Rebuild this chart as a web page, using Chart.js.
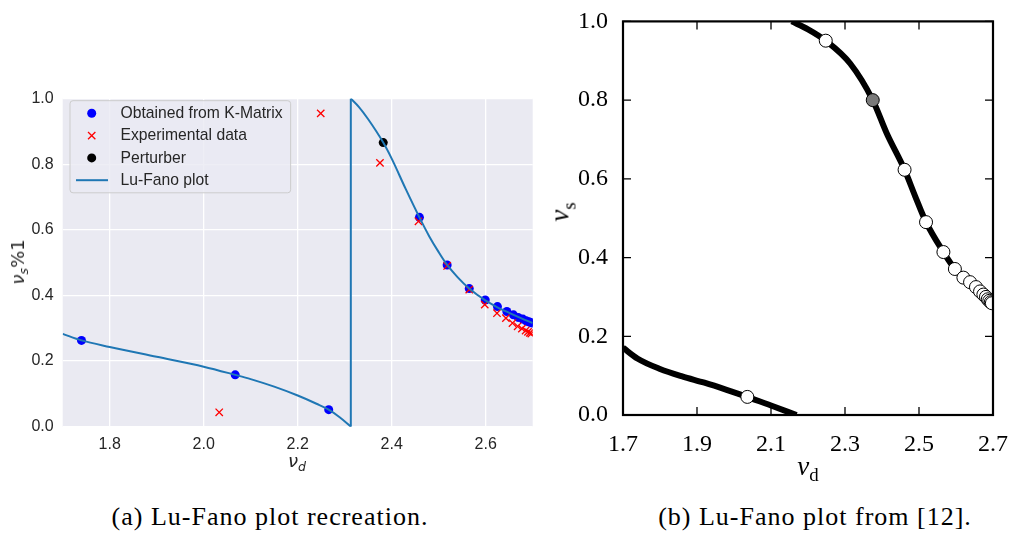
<!DOCTYPE html>
<html>
<head>
<meta charset="utf-8">
<script src="https://cdn.jsdelivr.net/npm/chart.js@4.4.0/dist/chart.umd.min.js"></script>
<style>
  body { margin: 0; background: #fff; }
  #page { position: relative; width: 1021px; height: 533px; overflow: hidden; }
  #chartA { position: absolute; left: 0; top: 80px; }
  #chartB { position: absolute; left: 540px; top: 0; }
  .lab { position: absolute; transform: translate(-50%, -50%); white-space: nowrap; line-height: 1; }
  .rot { transform: translate(-50%, -50%) rotate(-90deg); }
  .sans { font-family: "DejaVu Sans"; font-size: 18px; color: #262626; }
  .serif { font-family: "Liberation Serif"; font-size: 27px; color: #000; }
  .cap { font-family: "Liberation Serif"; font-size: 26px; letter-spacing: 1px; color: #000; }
  sub { font-size: 70%; vertical-align: -0.35em; line-height: 0; }
</style>
</head>
<body>
<div id="page">
  <canvas id="chartA" width="540" height="400"></canvas>
  <canvas id="chartB" width="481" height="480"></canvas>

  <div class="lab sans" style="left:297px; top:461px;"><i>ν</i><sub><i>d</i></sub></div>
  <div class="lab sans rot" style="left:18px; top:262px;"><i>ν</i><sub><i>s</i></sub>%1</div>

  <div class="lab serif" style="left:808px; top:466px;"><i>ν</i><sub>d</sub></div>
  <div class="lab serif rot" style="left:560px; top:212px;"><i>ν</i><sub>s</sub></div>

  <div class="lab cap" style="left:270px; top:517px;">(a) Lu-Fano plot recreation.</div>
  <div class="lab cap" style="left:815px; top:517px;">(b) Lu-Fano plot from [12].</div>
</div>

<script>
// (a) recreation: K-matrix levels, experiment, perturber
const kmatNu = [1.740, 2.067, 2.266, 2.459, 2.518, 2.565, 2.599, 2.625, 2.645, 2.659, 2.669, 2.679, 2.686, 2.691, 2.695, 2.699];
const kmatNs = [0.263, 0.158, 0.052, 0.638, 0.493, 0.421, 0.386, 0.366, 0.351, 0.341, 0.333, 0.328, 0.323, 0.320, 0.318, 0.316];

const expNu = [2.033, 2.249, 2.375, 2.457, 2.518, 2.565, 2.598, 2.624, 2.643, 2.657, 2.668, 2.677, 2.685, 2.690, 2.694, 2.697];
const expNs = [0.044, 0.955, 0.804, 0.626, 0.490, 0.418, 0.372, 0.346, 0.331, 0.316, 0.306, 0.299, 0.293, 0.289, 0.286, 0.284];

const pertNu = [2.382];
const pertNs = [0.866];

// Lu-Fano curve, three pieces (lower branch, jump, upper branch)
const fanoLowNu = [1.700, 1.740, 1.800, 1.900, 2.000, 2.067, 2.100, 2.150, 2.200, 2.240, 2.266, 2.290, 2.313];
const fanoLowNs = [0.283, 0.263, 0.243, 0.213, 0.183, 0.158, 0.145, 0.122, 0.095, 0.070, 0.052, 0.028, 0.000];
const fanoJumpNu = [2.313, 2.313];
const fanoJumpNs = [0.000, 1.000];
const fanoUpNu = [2.313, 2.330, 2.350, 2.382, 2.400, 2.430, 2.459, 2.480, 2.500, 2.518, 2.540, 2.565, 2.600, 2.625, 2.650, 2.675, 2.700];
const fanoUpNs = [1.000, 0.975, 0.937, 0.866, 0.817, 0.724, 0.638, 0.580, 0.532, 0.493, 0.456, 0.421, 0.384, 0.364, 0.347, 0.331, 0.316];

// (b) published plot
const refLowNu = [1.700, 1.740, 1.800, 1.860, 1.920, 1.980, 2.036, 2.100, 2.169];
const refLowNs = [0.171, 0.143, 0.117, 0.098, 0.082, 0.064, 0.046, 0.024, 0.000];
const refUpNu = [2.156, 2.200, 2.248, 2.314, 2.375, 2.413, 2.461, 2.490, 2.519, 2.566, 2.597, 2.620, 2.654, 2.686, 2.700];
const refUpNs = [1.000, 0.980, 0.951, 0.893, 0.800, 0.715, 0.623, 0.555, 0.490, 0.414, 0.371, 0.349, 0.325, 0.294, 0.278];
const refPtsNu = [2.036, 2.248, 2.461, 2.519, 2.566, 2.597, 2.620, 2.638, 2.654, 2.665, 2.674, 2.681, 2.686, 2.690, 2.694, 2.697];
const refPtsNs = [0.046, 0.951, 0.623, 0.490, 0.414, 0.371, 0.349, 0.3375, 0.325, 0.314, 0.306, 0.300, 0.294, 0.290, 0.2865, 0.284];
const refPertNu = [2.375];
const refPertNs = [0.800];

// tick labels
const ticksAx = [1.8, 2.0, 2.2, 2.4, 2.6];
const ticksAy = [0.0, 0.2, 0.4, 0.6, 0.8, 1.0];
const ticksBx = [1.7, 1.9, 2.1, 2.3, 2.5, 2.7];
const ticksBy = [0.0, 0.2, 0.4, 0.6, 0.8, 1.0];

const zip = (xs, ys) => xs.map((x, i) => ({ x: x, y: ys[i] }));
const fixTicks = arr => scale => { scale.ticks = arr.map(v => ({ value: v })); };

// seaborn-like panel background
const panelBg = {
  id: 'panelBg',
  beforeDraw(chart) {
    const a = chart.chartArea, ctx = chart.ctx;
    ctx.save();
    ctx.fillStyle = '#EAEAF2';
    ctx.fillRect(a.left, a.top, a.right - a.left, a.bottom - a.top);
    ctx.restore();
  }
};

// legend box drawn inside the axes, matplotlib style
const legendBox = {
  id: 'legendBox',
  afterDatasetsDraw(chart) {
    const ctx = chart.ctx;
    const ds = chart.data.datasets;
    const x0 = 70, y0 = 20.7, rowH = 22.3, firstRow = 33.3;
    const markX = 91.7, textX = 120.5;
    ctx.save();
    ctx.font = '15.7px "Liberation Sans"';
    const items = ds.filter(d => d.inLegend);
    const textW = Math.max(...items.map(d => ctx.measureText(d.label).width));
    const w = textX + textW + 8 - x0;
    const h = rowH * (items.length - 1) + 2 * (firstRow - y0);
    ctx.beginPath();
    ctx.roundRect(x0, y0, w, h, 3);
    ctx.fillStyle = 'rgba(234,234,242,0.8)';
    ctx.fill();
    ctx.strokeStyle = '#CCCCCC';
    ctx.lineWidth = 1;
    ctx.stroke();

    items.forEach((d, i) => {
      const y = firstRow + i * rowH;
      if (d.showLine) {
        ctx.strokeStyle = d.borderColor;
        ctx.lineWidth = d.borderWidth;
        ctx.beginPath();
        ctx.moveTo(76, y);
        ctx.lineTo(108, y);
        ctx.stroke();
      } else {
        ctx.fillStyle = d.backgroundColor;
        ctx.strokeStyle = d.borderColor;
        ctx.lineWidth = d.borderWidth;
        ctx.beginPath();
        if (d.pointStyle === 'crossRot') {
          const o = d.pointRadius * Math.SQRT1_2;
          ctx.moveTo(markX - o, y - o); ctx.lineTo(markX + o, y + o);
          ctx.moveTo(markX - o, y + o); ctx.lineTo(markX + o, y - o);
          ctx.stroke();
        } else {
          ctx.arc(markX, y, d.pointRadius, 0, Math.PI * 2);
          ctx.fill();
        }
      }
      ctx.fillStyle = '#262626';
      ctx.textBaseline = 'middle';
      ctx.fillText(d.label, textX, y + 0.5);
    });
    ctx.restore();
  }
};

new Chart(document.getElementById('chartA'), {
  type: 'scatter',
  data: {
    datasets: [
      { label: 'Obtained from K-Matrix', inLegend: true, data: zip(kmatNu, kmatNs),
        backgroundColor: '#0000ff', borderColor: '#0000ff', borderWidth: 0, pointRadius: 4.5, order: 3 },
      { label: 'Experimental data', inLegend: true, data: zip(expNu, expNs), pointStyle: 'crossRot',
        borderColor: '#ff0000', backgroundColor: '#ff0000', borderWidth: 1.3, pointRadius: 5.2, order: 1 },
      { label: 'Perturber', inLegend: true, data: zip(pertNu, pertNs),
        backgroundColor: '#000000', borderColor: '#000000', borderWidth: 0, pointRadius: 4.5, order: 2 },
      { label: 'Lu-Fano plot', inLegend: true, data: zip(fanoLowNu, fanoLowNs), showLine: true,
        borderColor: '#1f77b4', borderWidth: 2, pointRadius: 0, cubicInterpolationMode: 'monotone', order: 0 },
      { label: 'jump', data: zip(fanoJumpNu, fanoJumpNs), showLine: true,
        borderColor: '#1f77b4', borderWidth: 2, pointRadius: 0, order: 0 },
      { label: 'upper', data: zip(fanoUpNu, fanoUpNs), showLine: true,
        borderColor: '#1f77b4', borderWidth: 2, pointRadius: 0, cubicInterpolationMode: 'monotone', order: 0 }
    ]
  },
  options: {
    responsive: false,
    animation: false,
    events: [],
    layout: { padding: { top: 14, right: 7.3, left: 0, bottom: 0 } },
    plugins: { legend: { display: false }, tooltip: { enabled: false } },
    scales: {
      x: {
        type: 'linear', min: 1.7, max: 2.7,
        afterBuildTicks: fixTicks(ticksAx),
        afterFit: s => { s.height = 53.3; },
        grid: { color: '#ffffff', lineWidth: 1.3, drawTicks: false },
        border: { display: false },
        ticks: { padding: 8, color: '#262626', font: { family: 'Liberation Sans', size: 16 },
                 callback: v => v.toFixed(1) }
      },
      y: {
        type: 'linear', min: 0, max: 1,
        afterBuildTicks: fixTicks(ticksAy),
        afterFit: s => { s.width = 62.7; },
        grid: { color: '#ffffff', lineWidth: 1.3, drawTicks: false },
        border: { display: false },
        ticks: { padding: 9, color: '#262626', font: { family: 'Liberation Sans', size: 16 },
                 callback: v => v.toFixed(1) }
      }
    }
  },
  plugins: [panelBg, legendBox]
});

// frame with inward ticks on all four sides
const frameTicks = {
  id: 'frameTicks',
  afterDraw(chart) {
    const a = chart.chartArea, ctx = chart.ctx;
    const sx = chart.scales.x, sy = chart.scales.y;
    const len = 8;
    ctx.save();
    ctx.strokeStyle = '#000';
    ctx.lineWidth = 1.3;
    ctx.beginPath();
    sx.ticks.forEach(t => {
      const px = sx.getPixelForValue(t.value);
      ctx.moveTo(px, a.bottom); ctx.lineTo(px, a.bottom - len);
      ctx.moveTo(px, a.top); ctx.lineTo(px, a.top + len);
    });
    sy.ticks.forEach(t => {
      const py = sy.getPixelForValue(t.value);
      ctx.moveTo(a.left, py); ctx.lineTo(a.left + len, py);
      ctx.moveTo(a.right, py); ctx.lineTo(a.right - len, py);
    });
    ctx.stroke();
    ctx.lineWidth = 2.2;
    ctx.strokeRect(a.left, a.top, a.right - a.left, a.bottom - a.top);
    ctx.restore();
  }
};

new Chart(document.getElementById('chartB'), {
  type: 'scatter',
  data: {
    datasets: [
      { label: 'measured', data: zip(refPtsNu, refPtsNs), backgroundColor: '#ffffff', borderColor: '#000000',
        borderWidth: 1, pointRadius: 6.5, order: 1 },
      { label: 'perturber', data: zip(refPertNu, refPertNs), backgroundColor: '#7a7a7a', borderColor: '#000000',
        borderWidth: 1, pointRadius: 6.5, order: 0 },
      { label: 'lower', data: zip(refLowNu, refLowNs), showLine: true, borderColor: '#000000',
        borderWidth: 6, pointRadius: 0, cubicInterpolationMode: 'monotone', order: 2 },
      { label: 'upper', data: zip(refUpNu, refUpNs), showLine: true, borderColor: '#000000',
        borderWidth: 6, pointRadius: 0, cubicInterpolationMode: 'monotone', order: 2 }
    ]
  },
  options: {
    responsive: false,
    animation: false,
    events: [],
    layout: { padding: { top: 15, right: 28, left: 0, bottom: 0 } },
    plugins: { legend: { display: false }, tooltip: { enabled: false } },
    scales: {
      x: {
        type: 'linear', min: 1.7, max: 2.7,
        afterBuildTicks: fixTicks(ticksBx),
        afterFit: s => { s.height = 65; },
        grid: { display: false },
        border: { display: false },
        ticks: { padding: 7, color: '#000', font: { family: 'Liberation Serif', size: 24 },
                 callback: v => v.toFixed(1) }
      },
      y: {
        type: 'linear', min: 0, max: 1,
        afterBuildTicks: fixTicks(ticksBy),
        afterFit: s => { s.width = 83; },
        grid: { display: false },
        border: { display: false },
        ticks: { padding: 7, color: '#000', font: { family: 'Liberation Serif', size: 24 },
                 callback: v => v.toFixed(1) }
      }
    }
  },
  plugins: [frameTicks]
});
</script>
</body>
</html>
